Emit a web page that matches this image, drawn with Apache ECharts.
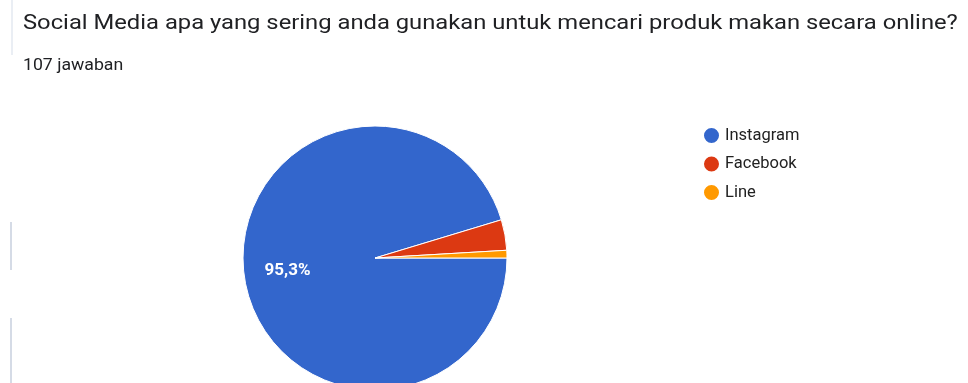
<!DOCTYPE html>
<html lang="id">
<head>
    <meta charset="UTF-8">
    <title>Social Media</title>
    <script src="https://cdn.jsdelivr.net/npm/echarts@6.0.0/dist/echarts.min.js"></script>
    <style>
        html, body { margin: 0; padding: 0; background: #fff; }
        #chart { width: 968px; height: 383px; }
    </style>
</head>
<body>
<div id="chart"></div>
<script>
    // data jawaban (107 responden)
    var categories = ['Instagram', 'Facebook', 'Line'];
    var counts = [102, 4, 1];
    var colors = ['#3366cc', '#dc3912', '#ff9900'];
    var questionText = 'Social Media apa yang sering anda gunakan untuk mencari produk makan secara online?';
    var answerText = '107 jawaban';

    var chart = echarts.init(document.getElementById('chart'));

    chart.setOption({
        legend: {
            orient: 'vertical',
            left: 702,
            top: 126,
            padding: 0,
            itemGap: 9.5,
            itemWidth: 17,
            itemHeight: 17,
            icon: 'circle',
            textStyle: {fontFamily: 'Roboto', fontSize: 16.5, color: '#222'},
            data: categories.map(function (c, i) {
                return {name: c, itemStyle: {color: colors[i]}};
            })
        },
        graphic: [
            {
                type: 'text', x: 23, y: 24, scaleX: 1.132,
                style: {text: questionText, font: '21px Roboto', fill: '#202124', verticalAlign: 'middle'}
            },
            {
                type: 'text', x: 23, y: 66, scaleX: 1.04,
                style: {text: answerText, font: '17px Roboto', fill: '#202124', verticalAlign: 'middle'}
            },
            // garis tepi kartu yang samar
            {type: 'line', shape: {x1: 12, y1: 0, x2: 12, y2: 55}, style: {stroke: '#e3e8f0', lineWidth: 1.5}},
            {type: 'line', shape: {x1: 11, y1: 222, x2: 11, y2: 270}, style: {stroke: '#d5dbe6', lineWidth: 2}},
            {type: 'line', shape: {x1: 11, y1: 318, x2: 11, y2: 383}, style: {stroke: '#d5dbe6', lineWidth: 2}}
        ],
        series: [{
            type: 'pie',
            center: [375, 258],
            radius: 132,
            startAngle: 0,
            clockwise: true,
            silent: true,
            itemStyle: {borderColor: '#fff', borderWidth: 1},
            label: {show: false},
            labelLine: {show: false},
            data: categories.map(function (c, i) {
                return {name: c, value: counts[i], itemStyle: {color: colors[i]}};
            })
        }, {
            // hanya untuk posisi label persentase
            type: 'pie',
            center: [375, 258],
            radius: [39, 132],
            startAngle: 0,
            clockwise: true,
            silent: true,
            itemStyle: {color: 'rgba(0,0,0,0)'},
            label: {
                position: 'inside',
                color: '#fff',
                fontFamily: 'Roboto',
                fontSize: 17,
                fontWeight: 'bold',
                formatter: function (p) {
                    if (p.percent < 5) return '';
                    return p.percent.toFixed(1).replace('.', ',') + '%';
                }
            },
            labelLine: {show: false},
            data: categories.map(function (c, i) {
                return {name: c, value: counts[i]};
            })
        }]
    });
</script>
</body>
</html>
